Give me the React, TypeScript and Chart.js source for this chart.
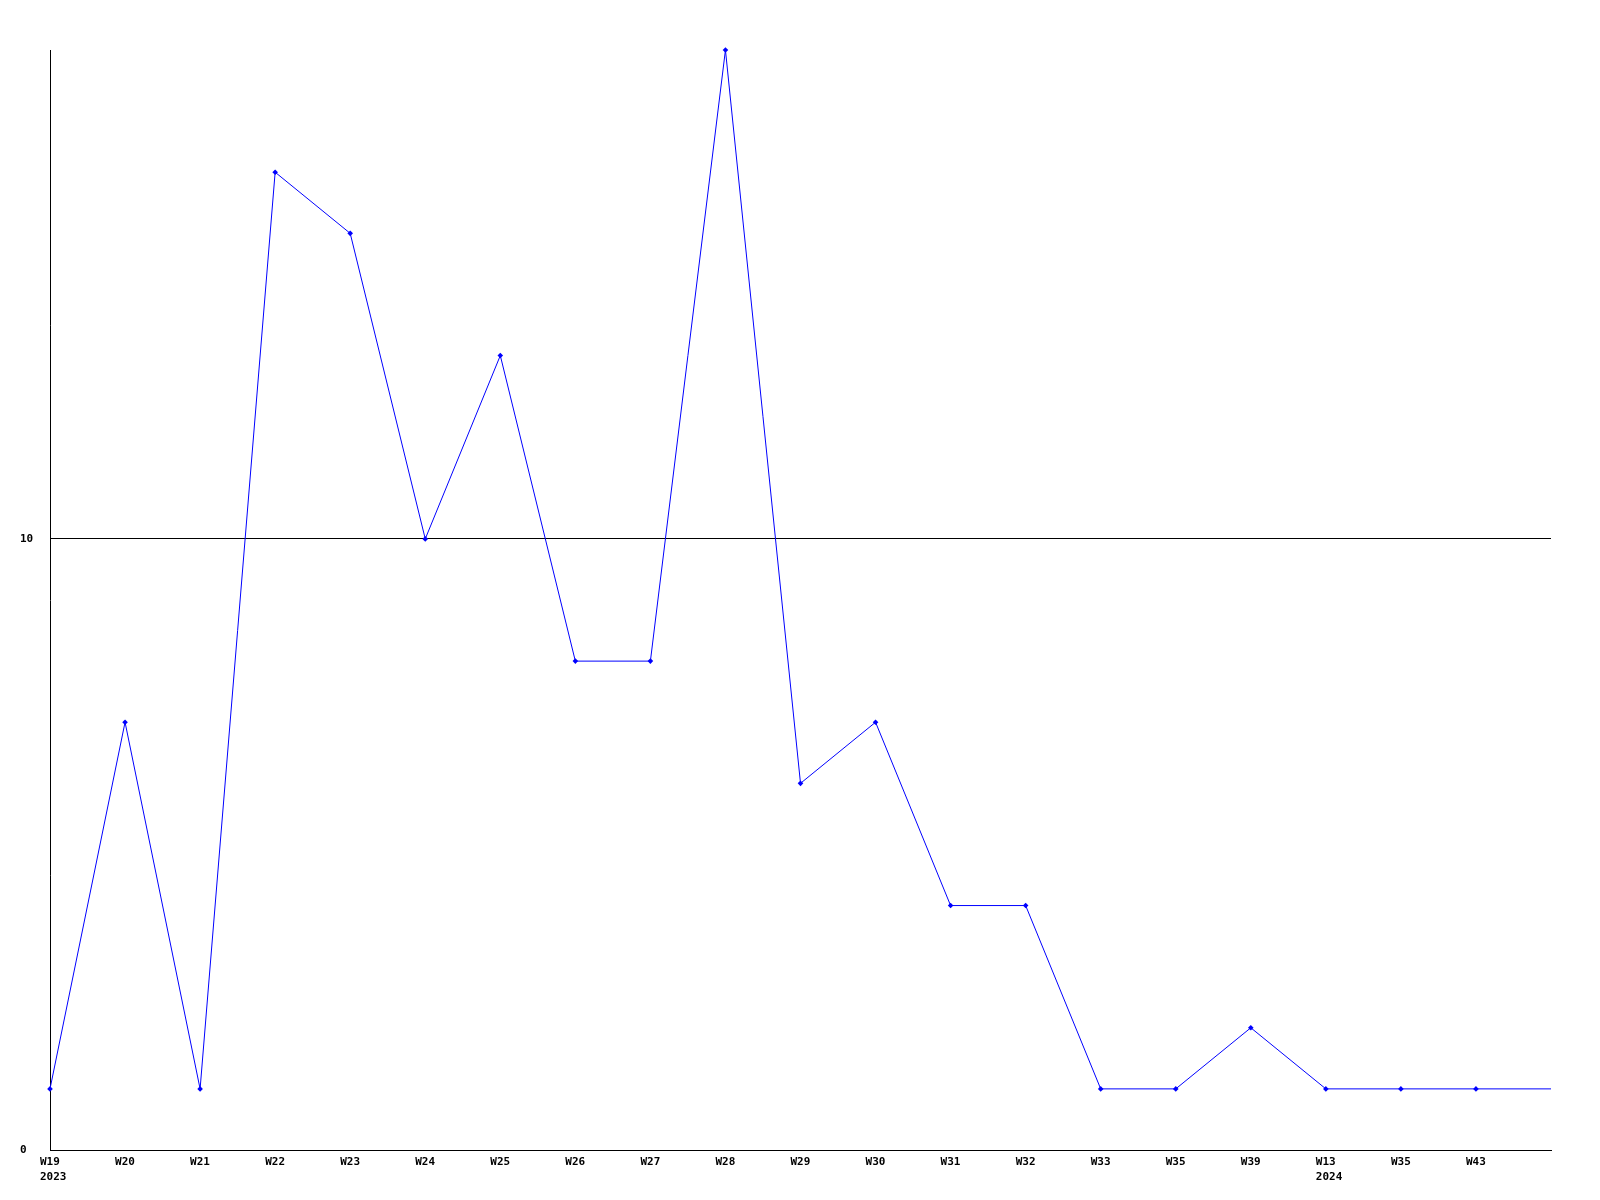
import React, { useEffect, useRef } from "react";
import { Chart, registerables } from "chart.js";

Chart.register(...registerables);

const weekLabels: (string | string[])[] = [
  ["W19", "2023"], "W20", "W21", "W22", "W23", "W24", "W25", "W26", "W27", "W28",
  "W29", "W30", "W31", "W32", "W33", "W35", "W39", ["W13", "2024"], "W35", "W43", "",
];
const counts: number[] = [1, 7, 1, 16, 15, 10, 13, 8, 8, 18, 6, 7, 4, 4, 1, 1, 2, 1, 1, 1, 1];
const yTicks: number[] = [0, 10];
const yMax = 18;

const FONT = { family: "'DejaVu Sans Mono', monospace", weight: "bold" as const, size: 11, lineHeight: 1.36 };

export default function App() {
  const ref = useRef<HTMLCanvasElement | null>(null);
  useEffect(() => {
    if (!ref.current) return;
    const chart = new Chart(ref.current, {
      type: "line",
      data: {
        labels: weekLabels,
        datasets: [
          {
            data: counts,
            borderColor: "#0000ff",
            backgroundColor: "#0000ff",
            borderWidth: 1,
            tension: 0,
            clip: false,
            pointStyle: "rectRot",
            pointRadius: counts.map((_, i) => (i === counts.length - 1 ? 0 : 2.8)),
            pointBackgroundColor: "#0000ff",
            pointBorderColor: "#0000ff",
            pointBorderWidth: 0,
          },
        ],
      },
      options: {
        responsive: false,
        animation: false,
        layout: { padding: { left: 12, top: 42, right: 41, bottom: 0 } },
        plugins: { legend: { display: false }, tooltip: { enabled: false } },
        scales: {
          x: {
            type: "category",
            offset: false,
            grid: { display: false, drawTicks: false },
            border: { display: true, color: "#000000", width: 1 },
            ticks: {
              autoSkip: false,
              maxRotation: 0,
              minRotation: 0,
              align: "start",
              labelOffset: -10,
              padding: 5,
              color: "#000000",
              font: FONT,
            },
            afterFit: (s: any) => {
              s.height = 42;
            },
          },
          y: {
            min: 0,
            max: yMax,
            grid: { display: true, drawTicks: false, color: "#000000", lineWidth: 1 },
            border: { display: true, color: "#000000", width: 1 },
            afterBuildTicks: (s: any) => {
              s.ticks = yTicks.map((v) => ({ value: v }));
            },
            ticks: {
              crossAlign: "far",
              padding: 17,
              color: "#000000",
              font: FONT,
            },
            afterFit: (s: any) => {
              s.width = 30;
            },
          },
        },
      },
    });
    return () => chart.destroy();
  }, []);
  return <canvas ref={ref} width={1584} height={1184} style={{ display: "block" }} />;
}
